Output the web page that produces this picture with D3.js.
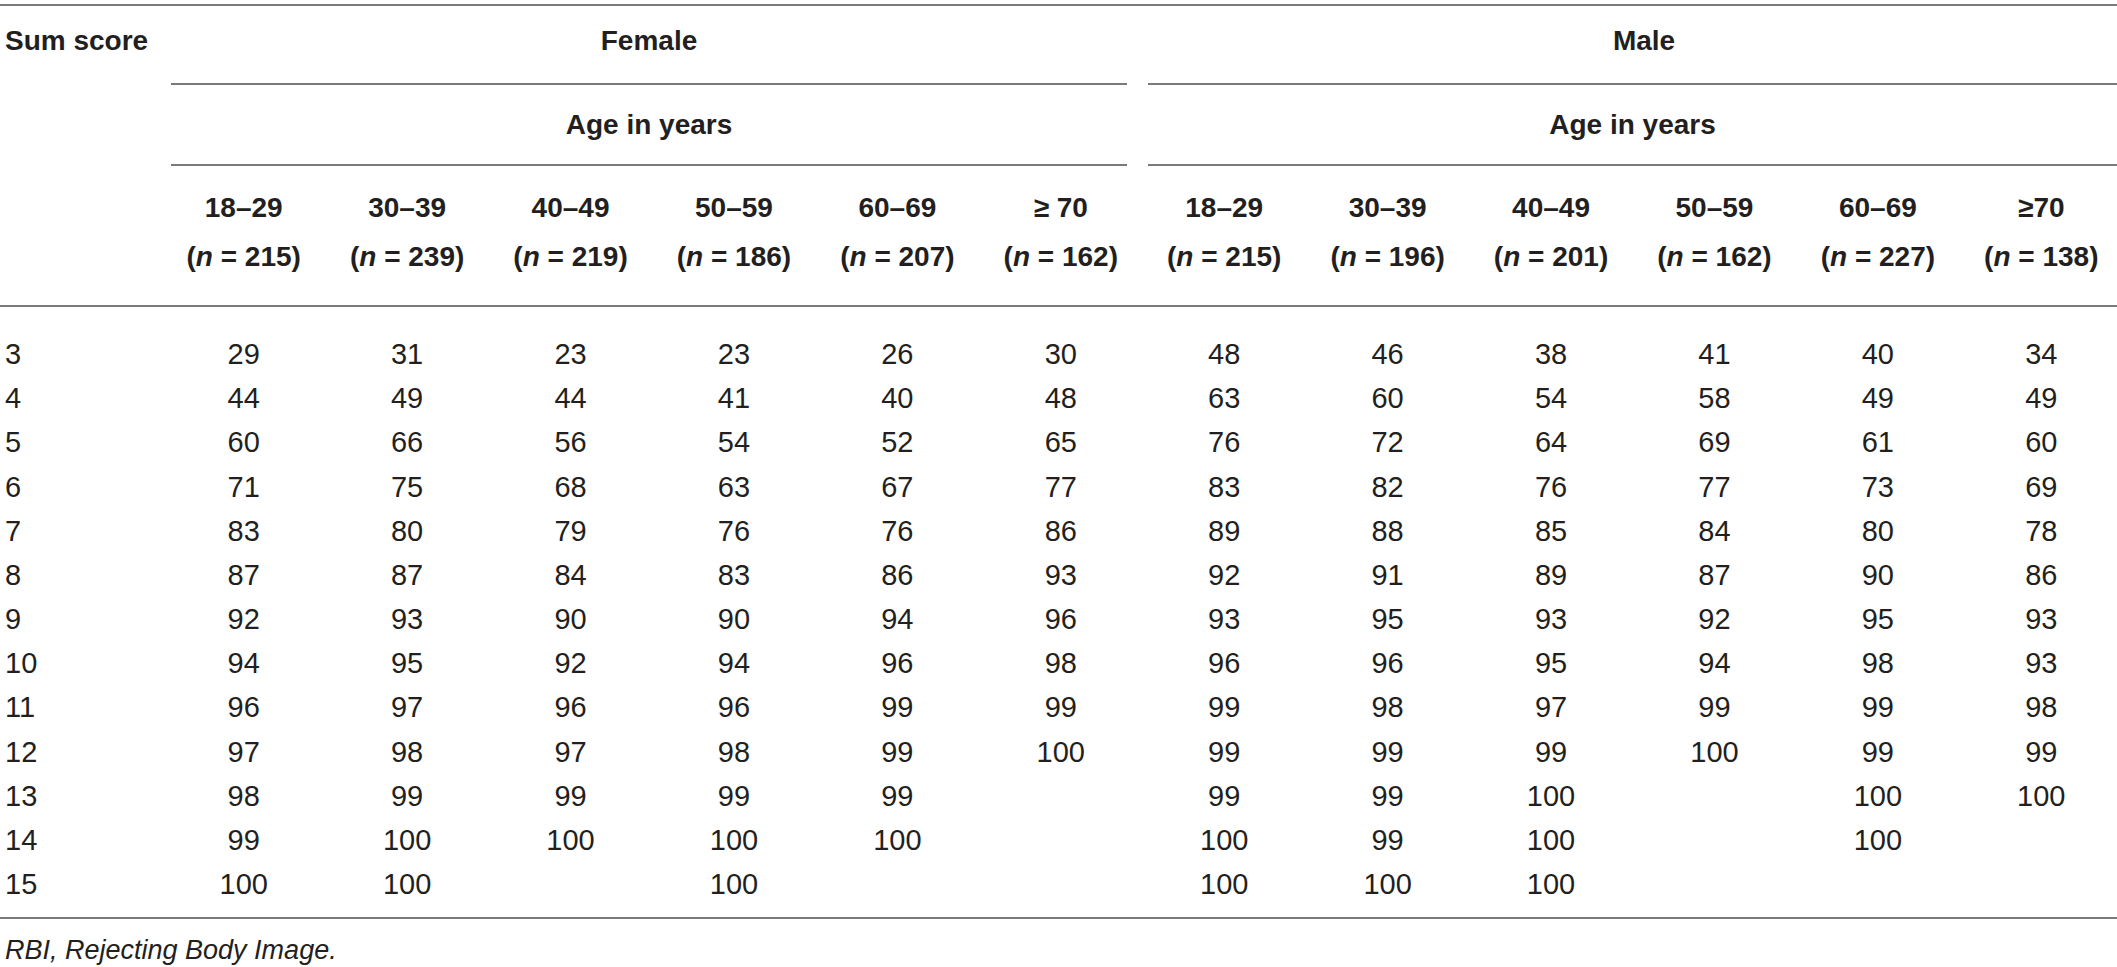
<!DOCTYPE html>
<html><head><meta charset="utf-8">
<script src="https://cdn.jsdelivr.net/npm/d3@7"></script>
<style>
html,body{margin:0;padding:0;background:#fff;}
svg{display:block;}
</style></head>
<body>
<script>
// ---- data ----
const sumScores = [3,4,5,6,7,8,9,10,11,12,13,14,15];
const groups = ["Female","Male"];
const subHeader = "Age in years";
const ageLabels = ["18–29","30–39","40–49","50–59","60–69","≥ 70","18–29","30–39","40–49","50–59","60–69","≥70"];
const nValues = [215,239,219,186,207,162,215,196,201,162,227,138];
const female_18_29 = [29,44,60,71,83,87,92,94,96,97,98,99,100];
const female_30_39 = [31,49,66,75,80,87,93,95,97,98,99,100,100];
const female_40_49 = [23,44,56,68,79,84,90,92,96,97,99,100,null];
const female_50_59 = [23,41,54,63,76,83,90,94,96,98,99,100,100];
const female_60_69 = [26,40,52,67,76,86,94,96,99,99,99,100,null];
const female_70 = [30,48,65,77,86,93,96,98,99,100,null,null,null];
const male_18_29 = [48,63,76,83,89,92,93,96,99,99,99,100,100];
const male_30_39 = [46,60,72,82,88,91,95,96,98,99,99,99,100];
const male_40_49 = [38,54,64,76,85,89,93,95,97,99,100,100,100];
const male_50_59 = [41,58,69,77,84,87,92,94,99,100,null,null,null];
const male_60_69 = [40,49,61,73,80,90,95,98,99,99,100,100,null];
const male_70 = [34,49,60,69,78,86,93,93,98,99,100,null,null];
const footnote = "RBI, Rejecting Body Image.";

const columns = [female_18_29,female_30_39,female_40_49,female_50_59,female_60_69,female_70,
                 male_18_29,male_30_39,male_40_49,male_50_59,male_60_69,male_70];

// ---- layout ----
const W = 2117, H = 967;
const svg = d3.select("body").append("svg").attr("width",W).attr("height",H);
const FONT = "'Liberation Sans', Arial, Helvetica, sans-serif";
const ink = "#231f20", rule = "#7a7a7a";
const HFS = 28, BFS = 29;

const x = d3.scaleBand().domain(d3.range(columns.length)).range([162, 2123]);
const y = d3.scalePoint().domain(sumScores).range([354, 884]);

function hline(x1,x2,yy){
  svg.append("line").attr("x1",x1).attr("x2",x2).attr("y1",yy).attr("y2",yy)
    .attr("stroke",rule).attr("stroke-width",2);
}
hline(0,W,5);
hline(0,W,306);
hline(0,W,918);

const groupSpans = [[171,1127],[1148,2117]];
const groupCenters = [649,1644];
groupSpans.forEach((s,i)=>{
  hline(s[0],s[1],84);
  hline(s[0],s[1],165);
  svg.append("text").attr("x",groupCenters[i]).attr("y",40).attr("text-anchor","middle")
    .attr("dominant-baseline","central").attr("font-family",FONT).attr("font-weight","bold")
    .attr("font-size",HFS).attr("fill",ink).text(groups[i]);
  svg.append("text").attr("x",(s[0]+s[1])/2).attr("y",124).attr("text-anchor","middle")
    .attr("dominant-baseline","central").attr("font-family",FONT).attr("font-weight","bold")
    .attr("font-size",HFS).attr("fill",ink).text(subHeader);
});

svg.append("text").attr("x",5).attr("y",40).attr("dominant-baseline","central")
  .attr("font-family",FONT).attr("font-weight","bold").attr("font-size",HFS).attr("fill",ink)
  .text("Sum score");

// column headers
ageLabels.forEach((lab,i)=>{
  const cx = x(i) + x.bandwidth()/2;
  svg.append("text").attr("x",cx).attr("y",207).attr("text-anchor","middle")
    .attr("dominant-baseline","central").attr("font-family",FONT).attr("font-weight","bold")
    .attr("font-size",HFS).attr("fill",ink).text(lab);
  const t = svg.append("text").attr("x",cx).attr("y",256).attr("text-anchor","middle")
    .attr("dominant-baseline","central").attr("font-family",FONT).attr("font-weight","bold")
    .attr("font-size",HFS).attr("fill",ink);
  t.append("tspan").text("(");
  t.append("tspan").attr("font-style","italic").text("n");
  t.append("tspan").text(" = " + nValues[i] + ")");
});

// row labels
svg.selectAll("text.rowlab").data(sumScores).enter().append("text")
  .attr("class","rowlab").attr("x",5).attr("y",d=>y(d)).attr("dominant-baseline","central")
  .attr("font-family",FONT).attr("font-size",BFS).attr("fill",ink).text(d=>d);

// cells
columns.forEach((col,ci)=>{
  const cx = x(ci) + x.bandwidth()/2;
  svg.append("g").selectAll("text").data(col.map((v,ri)=>({v,s:sumScores[ri]})).filter(d=>d.v!==null))
    .enter().append("text").attr("x",cx).attr("y",d=>y(d.s)).attr("text-anchor","middle")
    .attr("dominant-baseline","central").attr("font-family",FONT).attr("font-size",BFS)
    .attr("fill",ink).text(d=>d.v);
});

svg.append("text").attr("x",5).attr("y",950).attr("dominant-baseline","central")
  .attr("font-family",FONT).attr("font-style","italic").attr("font-size",27).attr("fill",ink)
  .text(footnote);
</script>
</body></html>
